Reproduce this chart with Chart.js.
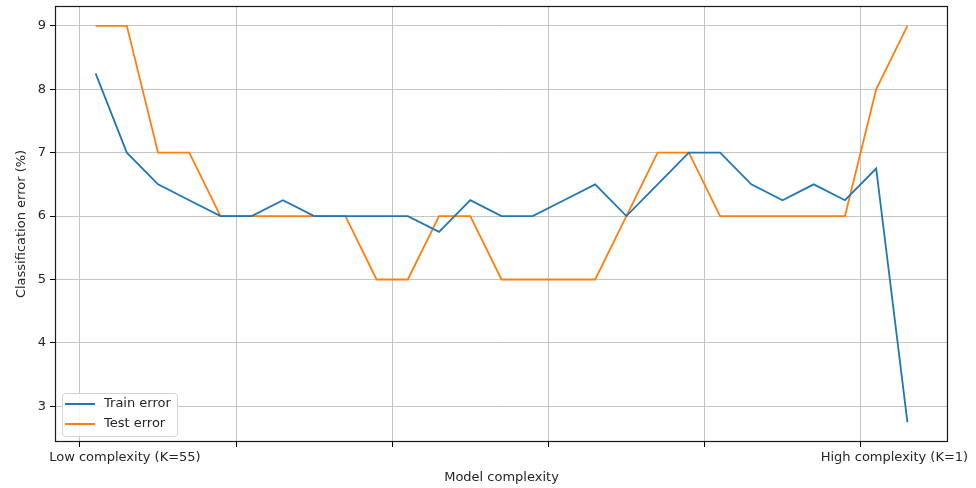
<!DOCTYPE html>
<html>
<head>
<meta charset="utf-8">
<title>Classification error vs model complexity</title>
<script src="https://cdn.jsdelivr.net/npm/chart.js@4.4.1/dist/chart.umd.min.js"></script>
<style>
  html, body { margin: 0; padding: 0; background: #ffffff; }
  canvas { display: block; }
</style>
</head>
<body>
<canvas id="chart" width="976" height="488"></canvas>
<script>
// Complexity steps along the x axis (low complexity on the left)
const steps = [1, 3, 5, 7, 9, 11, 13, 15, 17, 19, 21, 23, 25, 27, 29, 31, 33, 35, 37, 39, 41, 43, 45, 47, 49, 51, 53];

// Classification error (%) for each step
const trainError = [8.25, 7.0, 6.5, 6.25, 6.0, 6.0, 6.25, 6.0, 6.0, 6.0, 6.0, 5.75, 6.25, 6.0, 6.0, 6.25, 6.5, 6.0, 6.5, 7.0, 7.0, 6.5, 6.25, 6.5, 6.25, 6.75, 2.75];
const testError  = [9, 9, 7, 7, 6, 6, 6, 6, 6, 5, 5, 6, 6, 5, 5, 5, 5, 6, 7, 7, 6, 6, 6, 6, 6, 8, 9];

// Axis ticks and labels
const yTicks = [3, 4, 5, 6, 7, 8, 9];
const xGridTicks = [0, 10, 20, 30, 40, 50];
const xTickLabels = ['Low complexity (K=55)', 'High complexity (K=1)'];
const seriesNames = ['Train error', 'Test error'];

const FONT = 'DejaVu Sans';
const FONT_SIZE = 13;
const TEXT = '#262626';
const GRID = '#c4c4c4';
const X_MIN = -1.6, X_MAX = 55.6;

function toPoints(values) {
  return values.map((v, i) => ({ x: steps[i], y: v }));
}

// Axes frame and an in-plot legend in the lower left corner
const frameAndLegend = {
  id: 'frameAndLegend',
  afterDraw(chart) {
    const { ctx, chartArea: a } = chart;
    ctx.save();
    ctx.strokeStyle = '#1a1a1a';
    ctx.lineWidth = 1.2;
    ctx.strokeRect(Math.round(a.left) + 0.5, Math.round(a.top) + 0.5,
                   Math.round(a.right - a.left) - 1, Math.round(a.bottom - a.top) - 1);

    const bx = a.left + 7, bw = 115, bh = 43;
    const by = a.bottom - 6 - bh;
    ctx.beginPath();
    ctx.roundRect(bx + 0.5, by + 0.5, bw, bh, 3);
    ctx.fillStyle = 'rgba(255,255,255,0.85)';
    ctx.fill();
    ctx.strokeStyle = '#d4d4d4';
    ctx.lineWidth = 1;
    ctx.stroke();

    ctx.font = FONT_SIZE + 'px "' + FONT + '"';
    ctx.textBaseline = 'middle';
    ctx.textAlign = 'left';
    chart.data.datasets.forEach((ds, i) => {
      const ry = by + 11 + i * 20;
      ctx.beginPath();
      ctx.moveTo(bx + 3, ry);
      ctx.lineTo(bx + 33, ry);
      ctx.strokeStyle = ds.borderColor;
      ctx.lineWidth = 2;
      ctx.stroke();
      ctx.fillStyle = TEXT;
      ctx.fillText(ds.label, bx + 42, ry);
    });
    ctx.restore();
  }
};

new Chart(document.getElementById('chart'), {
  type: 'line',
  data: {
    datasets: [
      { label: seriesNames[0], data: toPoints(trainError), borderColor: '#1f77b4', borderWidth: 1.8,
        pointRadius: 0, tension: 0, fill: false, xAxisID: 'x', yAxisID: 'y' },
      { label: seriesNames[1], data: toPoints(testError), borderColor: '#ff7f0e', borderWidth: 1.8,
        pointRadius: 0, tension: 0, fill: false, xAxisID: 'x', yAxisID: 'y' }
    ]
  },
  options: {
    responsive: false,
    animation: false,
    devicePixelRatio: 1,
    layout: { padding: { top: 6, right: 28, left: 0, bottom: 0 } },
    plugins: { legend: { display: false }, tooltip: { enabled: false } },
    scales: {
      x: {
        type: 'linear', position: 'bottom', weight: 0,
        min: X_MIN, max: X_MAX,
        afterBuildTicks: s => { s.ticks = xGridTicks.map(v => ({ value: v })); },
        afterFit: s => { s.paddingLeft = 0; s.paddingRight = 0; },
        ticks: { display: false },
        grid: { color: GRID, lineWidth: 1, drawTicks: true, tickLength: 5, tickColor: '#000000' },
        border: { display: false }
      },
      xl: {
        type: 'linear', position: 'bottom', weight: 1,
        min: X_MIN, max: X_MAX,
        afterBuildTicks: s => { s.ticks = [{ value: 2.88 }, { value: 52.17 }]; },
        afterFit: s => { s.height = 41; s.paddingLeft = 0; s.paddingRight = 0; },
        ticks: {
          autoSkip: false, maxRotation: 0, minRotation: 0, padding: 3,
          color: TEXT, font: { family: FONT, size: FONT_SIZE },
          callback: (v, i) => xTickLabels[i]
        },
        grid: { display: false, drawTicks: false },
        border: { display: false },
        title: { display: true, text: 'Model complexity', color: TEXT,
                 font: { family: FONT, size: FONT_SIZE }, padding: { top: 0, bottom: 3 } }
      },
      y: {
        type: 'linear', position: 'left',
        min: 2.4375, max: 9.3125,
        afterBuildTicks: s => { s.ticks = yTicks.map(v => ({ value: v })); },
        afterFit: s => { s.width = 55; s.paddingTop = 0; s.paddingBottom = 0; },
        ticks: { color: TEXT, font: { family: FONT, size: FONT_SIZE }, padding: 4 },
        grid: { color: GRID, lineWidth: 1, drawTicks: true, tickLength: 5, tickColor: '#000000' },
        border: { display: false },
        title: { display: true, text: 'Classification error (%)', color: TEXT,
                 font: { family: FONT, size: FONT_SIZE }, padding: { top: 14, bottom: 0 } }
      }
    }
  },
  plugins: [frameAndLegend]
});
</script>
</body>
</html>
